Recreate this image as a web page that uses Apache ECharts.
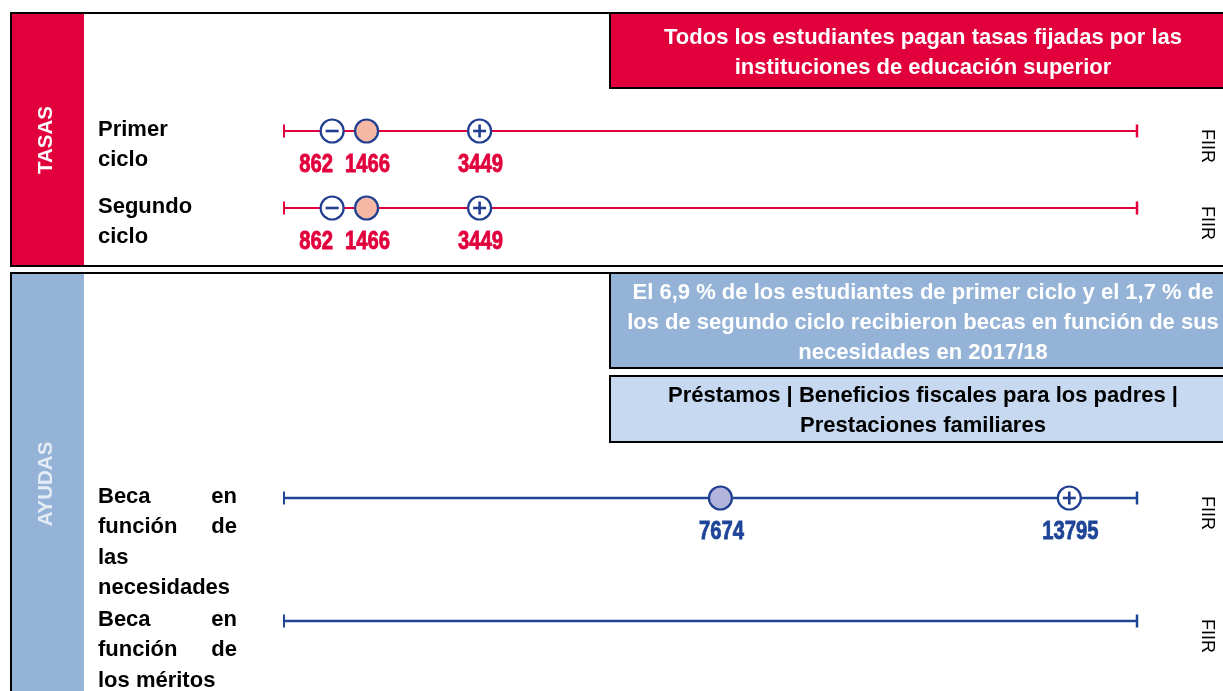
<!DOCTYPE html>
<html>
<head>
<meta charset="utf-8">
<script src="https://cdn.jsdelivr.net/npm/echarts@6/dist/echarts.min.js"></script>
<style>
  html, body { margin: 0; padding: 0; background: #fff; }
  #chart { width: 1223px; height: 691px; }
</style>
</head>
<body>
<div id="chart"></div>
<script>
// --- data ---
const rowNames = ['Primer ciclo', 'Segundo ciclo', 'Beca en función de las necesidades', 'Beca en función de los méritos'];
const minValues = [862, 862, null, null];      // minus marker
const avgValues = [1466, 1466, 7674, null];    // filled marker
const maxValues = [3449, 3449, 13795, null];   // plus marker
const axisMax = 15000;
const rowUnits = ['FIIR', 'FIIR', 'FIIR', 'FIIR'];
const sectionNames = ['TASAS', 'AYUDAS'];
const feesNote = 'Todos los estudiantes pagan tasas fijadas por las\ninstituciones de educación superior';
const aidNote = 'El 6,9 % de los estudiantes de primer ciclo y el 1,7 % de\nlos de segundo ciclo recibieron becas en función de sus\nnecesidades en 2017/18';
const otherAidNote = 'Préstamos | Beneficios fiscales para los padres |\nPrestaciones familiares';

// --- layout ---
const rowY = [131, 208, 498, 621];
const rowPanel = [0, 0, 1, 1];
// label lines per row; two-word lines are justified like the original
const rowLines = [
  [['Primer'], ['ciclo']],
  [['Segundo'], ['ciclo']],
  [['Beca', 'en'], ['función', 'de'], ['las'], ['necesidades']],
  [['Beca', 'en'], ['función', 'de'], ['los méritos']]
];

const RED = '#E2003C';
const NAVY = '#213F91';
const NUM_BLUE = '#1D4496';
const lineColors = [RED, '#1F4597'];
const numColors = [RED, NUM_BLUE];
const avgFill = ['#F4B8A5', '#B2B4DC'];
const labelFont = 'bold 22px "Liberation Sans", Arial, sans-serif';
const numFont = 'bold 25px "Liberation Sans", Arial, sans-serif';

const chart = echarts.init(document.getElementById('chart'));

// line + end caps for each row
const lineData = rowNames.map((n, i) => [0, axisMax, rowY[i], rowPanel[i]]);

// markers: kind 0 = min (minus), 1 = avg (filled), 2 = max (plus)
const markerData = [];
rowNames.forEach((n, i) => {
  [minValues[i], avgValues[i], maxValues[i]].forEach((v, k) => {
    if (v != null) markerData.push([v, rowY[i], k, rowPanel[i]]);
  });
});

function renderRowLine(params, api) {
  const y = api.value(2);
  const panel = api.value(3);
  const a = api.coord([api.value(0), y]);
  const b = api.coord([api.value(1), y]);
  const color = lineColors[panel];
  const lw = panel === 0 ? 2 : 2.6;
  return {
    type: 'group',
    children: [
      { type: 'line', shape: { x1: a[0], y1: a[1], x2: b[0], y2: b[1] }, style: { stroke: color, lineWidth: lw } },
      { type: 'line', shape: { x1: a[0] + 1, y1: a[1] - 6.5, x2: a[0] + 1, y2: a[1] + 6.5 }, style: { stroke: color, lineWidth: 2 } },
      { type: 'line', shape: { x1: b[0] - 1, y1: b[1] - 6.5, x2: b[0] - 1, y2: b[1] + 6.5 }, style: { stroke: color, lineWidth: 2.5 } }
    ]
  };
}

function renderMarker(params, api) {
  const v = api.value(0);
  const p = api.coord([v, api.value(1)]);
  const kind = api.value(2);
  const panel = api.value(3);
  const children = [{
    type: 'circle',
    shape: { cx: p[0], cy: p[1], r: 11.5 },
    style: { fill: kind === 1 ? avgFill[panel] : '#fff', stroke: NAVY, lineWidth: 2.2 }
  }];
  if (kind !== 1) {
    children.push({ type: 'line', shape: { x1: p[0] - 6.5, y1: p[1], x2: p[0] + 6.5, y2: p[1] }, style: { stroke: NAVY, lineWidth: 2.6 } });
  }
  if (kind === 2) {
    children.push({ type: 'line', shape: { x1: p[0], y1: p[1] - 6.5, x2: p[0], y2: p[1] + 6.5 }, style: { stroke: NAVY, lineWidth: 2.6 } });
  }
  const dx = kind === 0 ? -16 : 1;
  // condensed look of the original digits
  children.push({
    type: 'text',
    x: p[0] + dx, y: p[1] + 34, scaleX: 0.81,
    style: {
      text: String(v), x: 0, y: 0,
      fill: numColors[panel], stroke: numColors[panel], lineWidth: 0.8, font: numFont,
      align: 'center', verticalAlign: 'middle', textAlign: 'center', textVerticalAlign: 'middle'
    }
  });
  return { type: 'group', children };
}

function txt(text, x, y, font, fill, align) {
  return {
    type: 'text', x, y, silent: true,
    style: { text, font, fill, textAlign: align || 'left', textVerticalAlign: 'middle', lineHeight: 30 }
  };
}

const titleFont = 'bold 20.5px "Liberation Sans", Arial, sans-serif';
const graphics = [
  // panels
  { type: 'rect', shape: { x: 11, y: 13, width: 1240, height: 253 }, style: { fill: '#fff', stroke: '#000', lineWidth: 2 }, z: -10 },
  { type: 'rect', shape: { x: 12, y: 14, width: 72, height: 251 }, style: { fill: RED }, z: -9 },
  { type: 'rect', shape: { x: 11, y: 273, width: 1240, height: 440 }, style: { fill: '#fff', stroke: '#000', lineWidth: 2 }, z: -10 },
  { type: 'rect', shape: { x: 12, y: 274, width: 72, height: 430 }, style: { fill: '#95B3D7' }, z: -9 },
  // notes
  { type: 'rect', shape: { x: 610, y: 13, width: 640, height: 75 }, style: { fill: RED, stroke: '#000', lineWidth: 2 }, z: -8 },
  { type: 'rect', shape: { x: 610, y: 273, width: 640, height: 95 }, style: { fill: '#95B3D7', stroke: '#000', lineWidth: 2 }, z: -8 },
  { type: 'rect', shape: { x: 610, y: 376, width: 640, height: 66 }, style: { fill: '#C6D9F1', stroke: '#000', lineWidth: 2 }, z: -8 },
  txt(feesNote, 923, 53, labelFont, '#fff', 'center'),
  txt(aidNote, 923, 323, labelFont, '#fff', 'center'),
  txt(otherAidNote, 923, 411, labelFont, '#000', 'center'),
  // section titles
  { type: 'text', x: 46, y: 140, rotation: Math.PI / 2, silent: true,
    style: { text: sectionNames[0], font: titleFont, fill: '#fff', textAlign: 'center', textVerticalAlign: 'middle' } },
  { type: 'text', x: 46, y: 484, rotation: Math.PI / 2, silent: true,
    style: { text: sectionNames[1], font: titleFont, fill: '#E4ECF6', textAlign: 'center', textVerticalAlign: 'middle' } }
];

// row labels and units
rowLines.forEach((lines, i) => {
  lines.forEach((words, j) => {
    const y = rowY[i] - 1 + j * 30.3;
    graphics.push(txt(words[0], 98, y, labelFont, '#000'));
    if (words.length > 1) graphics.push(txt(words[1], 237, y, labelFont, '#000', 'right'));
  });
  graphics.push({
    type: 'text', x: 1207, y: rowY[i] + 15, rotation: -Math.PI / 2, silent: true,
    style: { text: rowUnits[i], font: '18px "Liberation Sans", Arial, sans-serif', fill: '#000', textAlign: 'center', textVerticalAlign: 'middle' }
  });
});

chart.setOption({
  animation: false,
  grid: { left: 283, right: 85, top: 0, bottom: 0 },
  xAxis: { type: 'value', min: 0, max: axisMax, show: false },
  yAxis: { type: 'value', min: 0, max: 691, inverse: true, show: false },
  graphic: graphics,
  series: [
    { type: 'custom', silent: true, renderItem: renderRowLine, data: lineData, z: 2 },
    { type: 'custom', silent: true, renderItem: renderMarker, data: markerData, z: 3 }
  ]
});
</script>
</body>
</html>
